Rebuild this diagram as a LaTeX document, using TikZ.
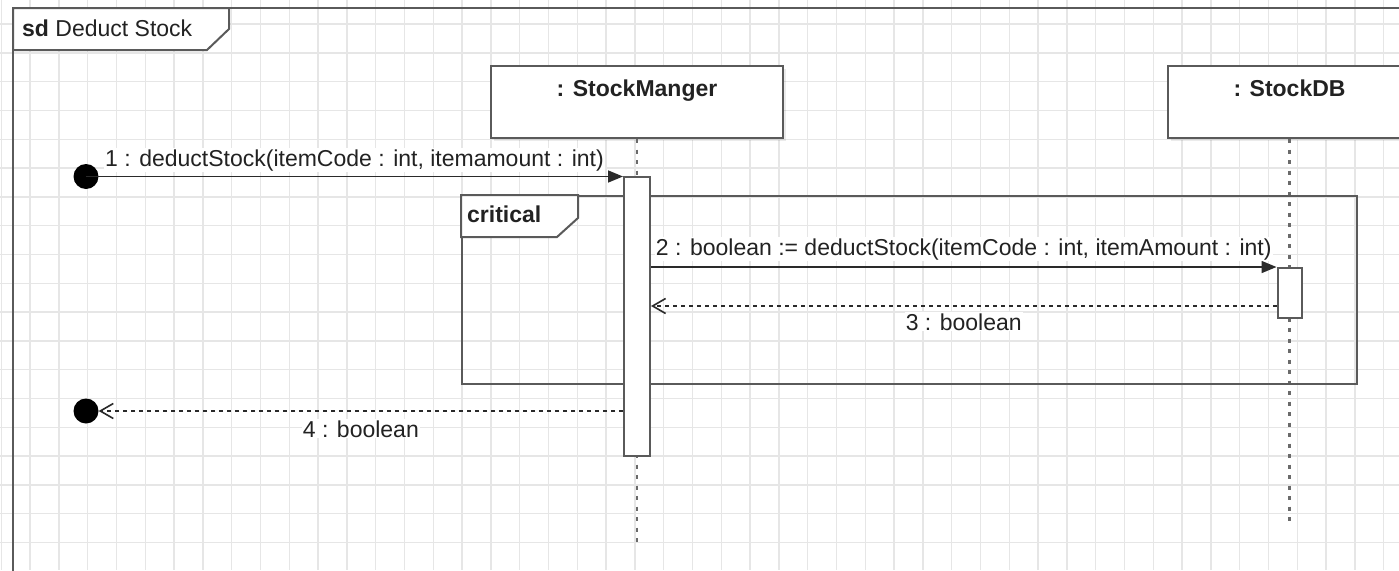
\documentclass[tikz,border=0pt]{standalone}
\usepackage{fontspec}
\setmainfont{Liberation Sans}
\usetikzlibrary{arrows.meta,shadows}
\definecolor{gridc}{HTML}{E6E6E6}
\definecolor{linec}{HTML}{5A5A5A}
\definecolor{lifec}{HTML}{6A6A6A}
\definecolor{msgc}{HTML}{2A2A2A}
\definecolor{txtc}{HTML}{222222}
\begin{document}
\begin{tikzpicture}[x=1pt,y=-1pt,
  font=\fontsize{23}{27}\selectfont, text=txtc,
  gridline/.style={draw=gridc, line width=1.4pt},
  frameline/.style={draw=linec, line width=2pt},
  headbox/.style={draw=linec, line width=2pt, fill=white, inner sep=0pt,
    drop shadow={shadow xshift=3pt, shadow yshift=-3pt, fill=black, opacity=0.08}},
  headtxt/.style={inner sep=0pt, anchor=base, font=\fontsize{23}{27}\selectfont\bfseries},
  actbox/.style={draw=linec, line width=2pt, fill=white, inner sep=0pt},
  lifeline/.style={draw=lifec, line width=2.2pt, dash pattern=on 4pt off 6.5pt},
  dot/.style={circle, fill=black, inner sep=0pt, minimum size=25pt},
  msg/.style={draw=msgc, line width=1.6pt, -{Triangle[length=15pt,width=12pt]}},
  ret/.style={draw=msgc, line width=1.6pt, dash pattern=on 4pt off 4pt,
    -{Straight Barb[length=13pt,width=15pt]}},
  lbl/.style={fill=white, inner sep=1pt, anchor=base}
]
\useasboundingbox (0,0) rectangle (1399,570);
\clip (0,0) rectangle (1399,570);
\fill[white] (0,0) rectangle (1399,570);
% background grid
\foreach \i in {0,...,48} \draw[gridline] ({1.2+28.8*\i},0) -- ({1.2+28.8*\i},570);
\foreach \j in {0,...,20} \draw[gridline] (0,{-4.8+28.8*\j}) -- (1399,{-4.8+28.8*\j});

% sd frame
\draw[frameline] (13,8) rectangle (1430,620);
\draw[frameline, fill=white] (13,8) -- (229,8) -- (229,29) -- (207,50) -- (13,50) -- cycle;
\node[anchor=base west, inner sep=0pt] (sdlabel) at (22,36) {\textbf{sd} Deduct Stock};

% lifeline heads
\node[headbox, minimum width=292pt, minimum height=72pt] (smhead) at (637,102) {};
\node[headtxt] (smname) at (637,96.5) {: StockManger};
\node[headbox, minimum width=243pt, minimum height=72pt] (dbhead) at (1289.5,102) {};
\node[headtxt] (dbname) at (1289.5,96) {: StockDB};

% lifelines
\coordinate (smend) at (637,545);
\coordinate (dbend) at (1289.5,523);
\draw[lifeline] (smhead.south) -- (smend);
\draw[lifeline] (dbhead.south) -- (dbend);

% critical fragment
\node[draw=linec, line width=2pt, minimum width=895pt, minimum height=188pt,
  inner sep=0pt, anchor=north west] (crit) at (461,195) {};
\draw[frameline, fill=white] (crit.north west) -- ++(117,0) -- ++(0,23) -- ++(-21,19) -- ++(-96,0) -- cycle;
\node[anchor=base west, inner sep=0pt] (critlabel) at (467,222) {\textbf{critical}};

% activations
\node[actbox, minimum width=26pt, minimum height=279.5pt] (act1) at (637,316.25) {};
\node[actbox, minimum width=24pt, minimum height=50pt] (act2) at (1289.5,293) {};

% start / end points
\node[dot] (start) at (86,176.5) {};
\node[dot] (finish) at (86,411) {};

% messages
\draw[msg] (start.center) -- (act1.west |- start)
  node[lbl, midway, yshift=10.5pt] {1 : deductStock(itemCode : int, itemamount : int)};
\draw[msg] (act1.east |- act2.north) -- (act2.north west)
  node[lbl, midway, yshift=12pt] {2 : boolean := deductStock(itemCode : int, itemAmount : int)};
\draw[ret] ([yshift=-13pt]act2.west) -- ([yshift=-13pt]act2.west -| act1.east)
  node[lbl, midway, yshift=-24pt] {3 : boolean};
\draw[ret] (act1.west |- finish) -- (finish)
  node[lbl, midway, yshift=-26pt] {4 : boolean};
\end{tikzpicture}
\end{document}
